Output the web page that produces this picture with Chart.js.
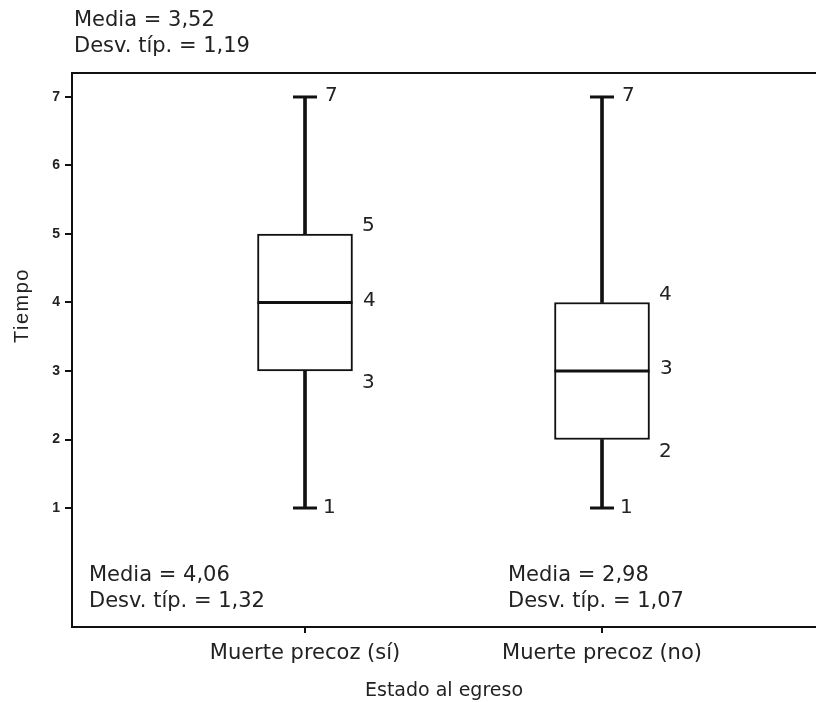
<!DOCTYPE html>
<html>
<head>
<meta charset="utf-8">
<script src="https://cdn.jsdelivr.net/npm/chart.js@4"></script>
<style>
  html, body { margin: 0; padding: 0; background: #fff; }
  #wrap { width: 816px; height: 702px; }
</style>
</head>
<body>
<div id="wrap"><canvas id="boxChart"></canvas></div>
<script>
var categories = ['Muerte precoz (sí)', 'Muerte precoz (no)'];
var minVals = [1, 1];
var q1Vals = [3, 2];
var medianVals = [4, 3];
var q3Vals = [5, 4];
var maxVals = [7, 7];
var means = [4.06, 2.98];
var stdDevs = [1.32, 1.07];
var totalMean = 3.52;
var totalStdDev = 1.19;
var yTicks = [1, 2, 3, 4, 5, 6, 7];

var txtFont = '21px "DejaVu Sans"';
function fmt(v) { return v.toFixed(2).replace('.', ','); }

var pos = function (arr) {
  return arr.map(function (v, i) { return { x: i + 1, y: v }; });
};
var range = function (lo, hi) {
  return lo.map(function (v, i) { return { x: i + 1, y: [v, hi[i]] }; });
};

var boxPlugin = {
  id: 'boxExtras',
  afterDraw: function (chart) {
    var c = chart.ctx, a = chart.chartArea;
    var xs = chart.scales.x, ys = chart.scales.y;
    c.save();
    // top border of the frame
    c.strokeStyle = '#111';
    c.lineWidth = 2;
    c.beginPath();
    c.moveTo(a.left - 1, a.top);
    c.lineTo(a.right, a.top);
    c.stroke();

    c.fillStyle = '#222';
    c.font = '20px "DejaVu Sans"';
    c.textBaseline = 'middle';
    c.textAlign = 'left';

    // value labels next to each box
    for (var i = 0; i < categories.length; i++) {
      var cx = xs.getPixelForValue(i + 1);
      c.fillText(String(maxVals[i]), cx + 20, ys.getPixelForValue(maxVals[i]) - 1);
      c.fillText(String(minVals[i]), cx + 18, ys.getPixelForValue(minVals[i]));
      c.fillText(String(q3Vals[i]), cx + 57, ys.getPixelForValue(q3Vals[i]) - 8);
      c.fillText(String(medianVals[i]), cx + 58, ys.getPixelForValue(medianVals[i]) - 2);
      c.fillText(String(q1Vals[i]), cx + 57, ys.getPixelForValue(q1Vals[i]) + 12);
    }

    // summary statistics
    c.font = txtFont;
    c.fillText('Media = ' + fmt(totalMean), 74, 21);
    c.fillText('Desv. típ. = ' + fmt(totalStdDev), 74, 47);
    var statX = [a.left + 17, a.left + 436];
    for (var j = 0; j < categories.length; j++) {
      c.fillText('Media = ' + fmt(means[j]), statX[j], a.bottom - 51);
      c.fillText('Desv. típ. = ' + fmt(stdDevs[j]), statX[j], a.bottom - 25);
    }

    // y axis title, centred on the tick range
    c.font = '20px "Liberation Sans"';
    c.letterSpacing = '1.5px';
    c.textAlign = 'center';
    c.translate(22, (ys.getPixelForValue(yTicks[0]) + ys.getPixelForValue(yTicks[yTicks.length - 1])) / 2 + 3);
    c.rotate(-Math.PI / 2);
    c.fillText('Tiempo', 0, 0);
    c.restore();
  }
};

new Chart(document.getElementById('boxChart').getContext('2d'), {
  type: 'bar',
  data: {
    datasets: [
      {
        label: 'Bigote',
        data: range(minVals, q1Vals),
        backgroundColor: '#111',
        borderWidth: 0,
        barThickness: 3,
        grouped: false,
        order: 3
      },
      {
        label: 'Bigote sup',
        data: range(q3Vals, maxVals),
        backgroundColor: '#111',
        borderWidth: 0,
        barThickness: 3,
        grouped: false,
        order: 3
      },
      {
        label: 'Caja',
        data: range(q1Vals, q3Vals),
        backgroundColor: '#fff',
        borderColor: '#111',
        borderWidth: 2,
        borderSkipped: false,
        barThickness: 95,
        grouped: false,
        order: 2
      },
      {
        type: 'scatter',
        label: 'Mediana',
        data: pos(medianVals),
        pointStyle: 'line',
        radius: 47.5,
        borderWidth: 3,
        borderColor: '#111',
        order: 1
      },
      {
        type: 'scatter',
        label: 'Extremos',
        data: pos(minVals).concat(pos(maxVals)),
        pointStyle: 'line',
        radius: 12,
        borderWidth: 3,
        borderColor: '#111',
        order: 1
      }
    ]
  },
  options: {
    responsive: true,
    maintainAspectRatio: false,
    animation: false,
    events: [],
    layout: { autoPadding: false, padding: { top: 73, right: 0, left: 0, bottom: 0 } },
    plugins: {
      legend: { display: false },
      tooltip: { enabled: false }
    },
    scales: {
      x: {
        type: 'linear',
        offset: false,
        min: 0.2155,
        max: 2.7205,
        afterBuildTicks: function (s) { s.ticks = [{ value: 1 }, { value: 2 }]; },
        afterFit: function (s) { s.height = 75; s.paddingLeft = 0; s.paddingRight = 0; },
        grid: { offset: false, drawOnChartArea: false, drawTicks: true, tickLength: 6, color: '#111', lineWidth: 2 },
        border: { display: true, color: '#111', width: 2 },
        ticks: {
          padding: 8,
          color: '#222',
          font: { family: 'DejaVu Sans', size: 21 },
          maxRotation: 0,
          callback: function (v) { return categories[v - 1] || ''; }
        },
        title: {
          display: true,
          text: 'Estado al egreso',
          color: '#222',
          font: { family: 'DejaVu Sans', size: 19 },
          padding: { top: 0, bottom: 0 }
        }
      },
      y: {
        min: -0.737,
        max: 7.35,
        afterBuildTicks: function (s) { s.ticks = yTicks.map(function (v) { return { value: v }; }); },
        afterFit: function (s) { s.width = 72; },
        grid: { drawOnChartArea: false, drawTicks: true, tickLength: 7, color: '#111', lineWidth: 2 },
        border: { display: true, color: '#111', width: 2 },
        ticks: {
          padding: 5,
          color: '#222',
          font: { family: 'Liberation Sans', size: 14, weight: 'bold' }
        }
      }
    }
  },
  plugins: [boxPlugin]
});
</script>
</body>
</html>
